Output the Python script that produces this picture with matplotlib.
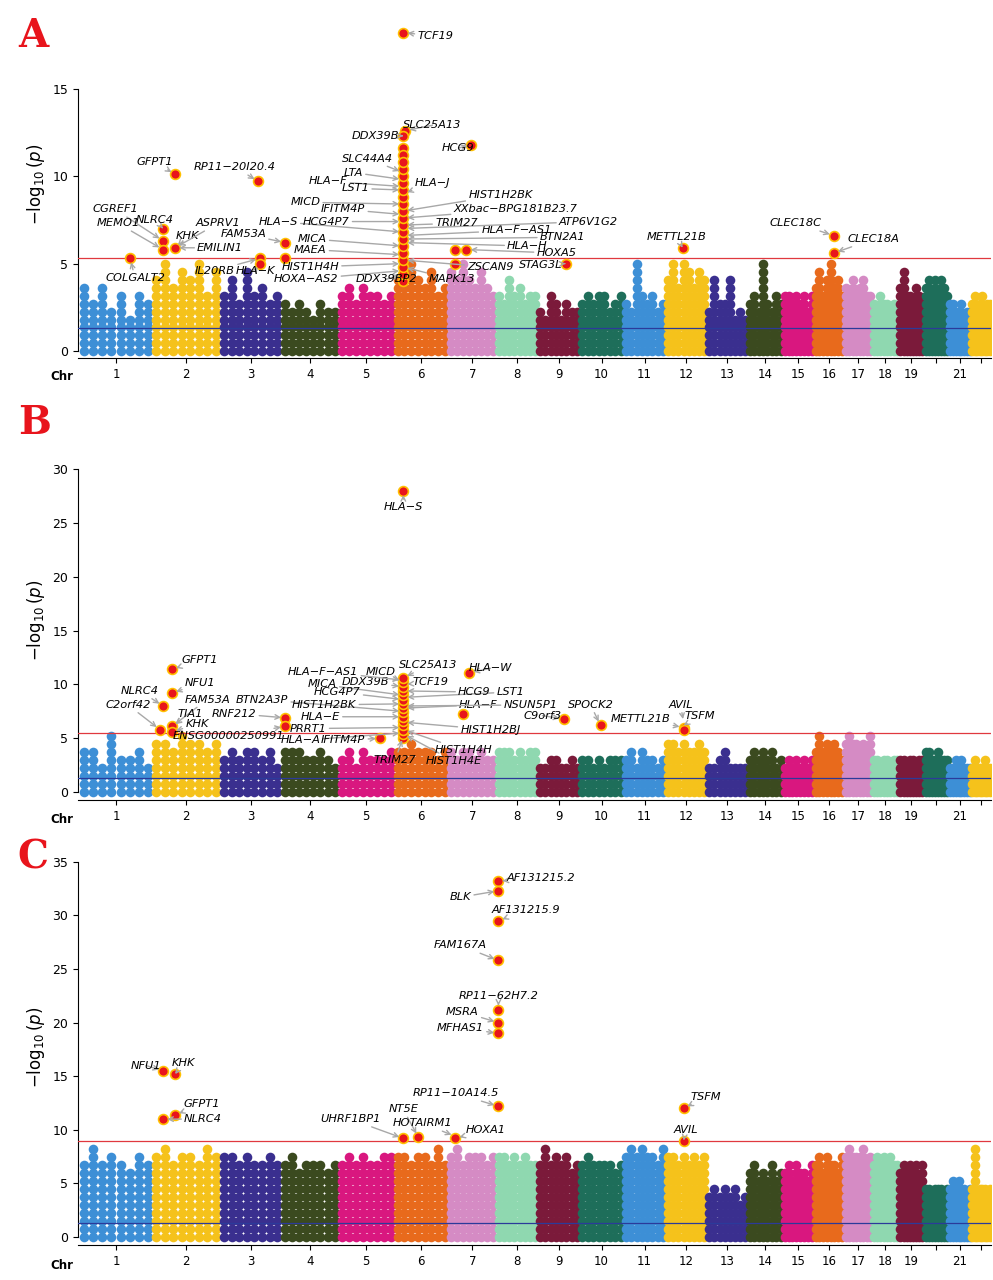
import matplotlib
matplotlib.use('Agg')
import matplotlib.pyplot as plt
import numpy as np

# chromosome sizes (relative genome units)
chr_sizes = [72,68,61,57,56,54,48,41,42,44,42,41,41,35,31,30,28,27,25,25,22,20]
chr_names = [str(i) for i in range(1, 23)]
shown = set(chr_names) - {'20', '22'}
palette = ['#3d8fd6', '#f5c21b', '#3a2f8f', '#3b4a1f', '#d9177f', '#e86a1c',
           '#d58bc4', '#8fd8b0', '#7b1a3a', '#1e6e5a']

bgA = [[3.8,3.0,4.0,2.6,3.5,2.2,3.2,2.8],[4.5,5.2,3.8,4.9,4.2,5.0,3.6,4.6],[3.6,4.4,3.0,4.8,3.2,4.0,2.8,3.4],
       [2.8,2.4,3.0,2.6,2.2,2.9,2.5,2.7],[3.4,3.9,3.0,4.0,3.6,3.2,2.8,3.5],[4.5,4.0,5.0,4.2,3.8,4.6,3.5,4.0],
       [4.8,4.2,5.0,4.4,3.8,4.6,4.0,3.6],[3.6,3.0,4.2,3.4,3.8,2.8,3.2,3.5],[2.5,2.2,3.5,2.8,2.0,3.0,2.6,2.4],
       [3.0,3.4,2.8,3.2,3.6,2.6,3.0,3.3],[3.0,2.6,5.1,3.2,2.8,3.4,2.4,3.0],[4.4,5.0,4.0,5.2,4.6,3.8,4.8,4.2],
       [2.4,4.3,2.8,3.0,4.2,2.2,2.6,2.0],[2.8,3.2,2.6,5.0,3.0,2.4,3.4,2.8],[3.2,3.6,2.8,3.4,3.0,3.5,2.6,3.3],
       [4.0,4.8,3.6,4.4,5.0,3.8,4.2,3.4],[4.0,3.6,4.2,3.4,3.8,4.1,3.2,3.6],[3.0,2.6,3.2,2.8,3.0,2.4,2.9,2.7],
       [3.8,4.7,3.2,3.6,3.0,4.0,3.4,2.8],[4.0,4.5,3.6,4.2,3.4,4.4,3.8,3.2],[2.8,3.0,2.4,2.6,3.0,2.2,2.7,2.5],
       [3.0,3.3,2.6,2.8,3.2,2.4,2.9,3.1]]
bgB = [[3.8,4.2,3.0,5.3,3.5,3.2,3.9,2.8],[4.8,5.2,4.4,5.5,4.6,5.0,4.2,4.9],[3.6,4.5,3.2,4.0,3.8,3.4,4.2,3.0],
       [4.2,3.8,4.5,3.6,3.2,4.0,3.4,3.0],[3.4,3.8,3.0,4.0,3.6,3.2,3.5,3.9],[4.5,4.2,4.8,4.0,3.8,4.4,3.6,4.1],
       [4.0,3.6,4.2,3.8,3.4,4.1,3.5,3.7],[4.2,3.8,4.5,3.6,4.0,3.4,4.3,3.9],[3.0,2.8,3.2,3.4,2.6,3.0,3.1,2.7],
       [3.2,3.5,3.0,3.3,2.9,3.4,3.1,3.6],[3.4,3.8,3.0,4.0,3.6,3.2,2.8,3.5],[4.6,5.0,4.2,4.8,4.4,4.0,5.1,4.3],
       [3.0,2.6,3.2,4.2,2.8,3.0,2.4,2.9],[3.6,4.0,3.2,3.8,3.4,3.9,3.0,3.5],[3.0,3.3,2.8,3.2,2.6,3.1,2.9,3.4],
       [4.4,5.3,4.0,4.8,3.8,4.6,4.2,3.6],[5.0,5.5,4.6,5.2,4.4,4.8,4.0,5.4],[3.4,3.6,3.0,3.2,3.5,2.8,3.3,3.1],
       [3.4,3.6,3.0,3.5,3.2,2.9,3.3,3.1],[3.8,4.0,3.4,3.6,4.1,3.2,3.7,3.5],[3.0,2.8,3.2,2.6,3.1,2.7,2.9,3.0],
       [2.9,3.1,2.6,3.0,2.8,3.2,2.7,2.5]]
bgC = [[7.5,8.6,6.8,8.0,7.2,6.5,7.8,7.0],[8.0,8.5,7.4,8.2,7.8,7.0,8.4,7.6],[7.6,8.2,7.0,7.8,6.8,7.4,8.0,7.2],
       [7.0,7.7,6.6,7.4,6.8,7.2,6.4,7.5],[7.4,8.0,7.0,7.8,7.2,6.8,7.6,8.2],[7.6,8.2,7.2,8.0,7.8,7.0,8.4,7.4],
       [7.8,8.4,7.4,8.0,7.6,8.2,7.0,7.8],[7.6,8.2,7.2,7.8,7.4,8.0,7.0,7.5],[7.0,8.6,6.8,7.6,7.2,8.0,6.6,7.4],
       [7.2,7.6,6.8,7.4,7.0,7.5,6.6,7.3],[8.0,8.8,7.6,8.4,7.8,8.2,7.4,8.6],[7.6,8.2,7.2,8.0,7.4,7.8,7.0,7.9],
       [4.2,5.0,3.8,4.6,4.0,4.8,3.6,4.4],[6.2,7.0,5.8,6.6,6.0,6.8,5.6,6.4],[6.4,7.0,6.0,6.8,6.2,6.6,5.8,6.9],
       [7.0,8.2,6.6,7.6,6.8,7.4,6.4,7.8],[8.0,8.6,7.6,8.2,7.8,8.4,7.4,8.0],[7.4,8.2,7.0,7.8,7.2,7.6,6.8,7.5],
       [6.6,7.2,6.2,7.0,6.4,6.8,6.0,6.9],[4.8,5.2,4.4,5.0,4.6,4.9,4.2,4.7],[5.0,5.6,4.6,5.4,4.8,5.2,4.4,5.1],
       [4.8,8.4,4.4,5.2,4.6,5.0,4.2,4.9]]

# significant hits: (position, -log10 p)
hitsA = [(323,18.2),(325,12.6),(323,12.3),(391,11.8),(323,11.6),(323,11.2),(95,10.1),(178,9.7),(83,7.0),(83,6.3),
         (83,5.8),(95,5.9),(50,5.3),(180,5.3),(180,5.0),(205,6.2),(205,5.3),(375,5.0),(386,5.8),(375,5.8),
         (485,5.0),(602,5.9),(753,6.6),(753,5.6)] + [(323, v) for v in np.arange(4.0, 11.0, 0.4)]
hitsB = [(323,28.0),(92,11.4),(92,9.2),(83,8.0),(80,5.8),(92,6.1),(92,5.6),(205,6.9),(205,6.1),(300,5.0),
         (389,11.1),(383,7.3),(483,6.8),(520,6.2),(603,6.0),(603,5.8)] + [(323, v) for v in np.arange(5.0, 10.8, 0.4)]
hitsC = [(418,33.2),(418,32.3),(418,29.5),(418,25.8),(418,21.2),(418,20.0),(418,19.0),(83,15.5),(95,15.2),
         (95,11.4),(83,11.0),(418,12.2),(375,9.2),(323,9.2),(338,9.3),(603,12.0),(603,9.0)]

# labels: (text, label x, label y, target x, target y)
labA = [('TCF19',355,18.0,323,18.2),('SLC25A13',352,12.9,325,12.6),('DDX39B',295,12.3,323,12.3),('HCG9',378,11.6,391,11.8),
        ('GFPT1',75,10.8,95,10.1),('RP11−20I20.4',155,10.5,178,9.7),('NLRC4',75,7.5,83,7.0),('CGREF1',35,8.1,83,6.3),
        ('MEMO1',38,7.3,83,5.8),('KHK',107,6.6,95,5.9),('ASPRV1',138,7.3,95,5.9),('EMILIN1',140,5.9,95,5.9),
        ('COLGALT2',55,4.2,50,5.3),('IL20RB',135,4.6,180,5.3),('HLA−K',175,4.6,180,5.0),('FAM53A',163,6.7,205,6.2),
        ('HLA−S',198,7.4,323,6.8),('MICA',232,6.4,323,6.0),('MAEA',230,5.8,323,5.5),('HIST1H4H',230,4.8,323,5.0),
        ('HOXA−AS2',226,4.1,323,4.6),('DDX39BP2',306,4.1,323,4.4),('MAPK13',372,4.1,323,4.8),('ZSCAN9',410,4.8,323,5.2),
        ('STAG3L',460,4.9,485,5.0),('HOXA5',476,5.6,386,5.8),('HLA−H',447,6.0,323,6.2),('BTN2A1',482,6.5,323,6.4),
        ('HLA−F−AS1',436,6.9,323,6.6),('ATP6V1G2',508,7.4,323,7.0),('TRIM27',376,7.3,323,7.2),
        ('XXbac−BPG181B23.7',435,8.1,323,7.6),('HIST1H2BK',420,8.9,323,8.0),('HLA−J',352,9.6,323,9.0),
        ('MICD',225,8.5,323,8.4),('IFITM4P',263,8.1,323,7.8),('HCG4P7',246,7.4,323,7.4),('HLA−F',248,9.7,323,9.4),
        ('LST1',275,9.3,323,9.2),('LTA',273,10.2,323,9.8),('SLC44A4',287,11.0,323,10.2),('METTL21B',596,6.5,602,5.9),
        ('CLEC18C',715,7.3,753,6.6),('CLEC18A',793,6.4,753,5.6)]
labB = [('HLA−S',323,26.5,323,28.0),('GFPT1',120,12.3,92,11.4),('NFU1',120,10.1,92,9.2),('NLRC4',60,9.4,83,8.0),
        ('C2orf42',48,8.1,80,5.8),('FAM53A',127,8.6,92,6.1),('TIA1',110,7.3,92,6.1),('KHK',117,6.3,92,5.6),
        ('RNF212',154,7.3,205,6.9),('BTN2A3P',182,8.6,323,7.5),('ENSG00000250991',148,5.2,205,6.1),('HLA−A',220,4.8,323,5.5),
        ('MICA',242,10.0,323,9.0),('HCG4P7',257,9.3,323,8.6),('HIST1H2BK',244,8.1,323,8.2),('HLA−E',240,7.0,323,7.0),
        ('PRRT1',228,5.9,323,6.0),('IFITM4P',263,4.8,300,5.0),('TRIM27',315,3.0,323,5.2),('HIST1H4E',373,2.9,323,5.4),
        ('HIST1H4H',383,3.9,323,5.8),('HIST1H2BJ',410,5.8,323,6.5),('HLA−F',398,8.1,323,7.8),('NSUN5P1',450,8.1,323,8.0),
        ('LST1',430,9.3,323,8.8),('HCG9',394,9.3,323,9.4),('SLC25A13',348,11.8,323,10.6),('HLA−W',410,11.5,389,11.1),
        ('TCF19',350,10.2,323,10.0),('DDX39B',285,10.2,323,9.8),('HLA−F−AS1',243,11.2,323,10.4),('MICD',300,11.2,323,10.2),
        ('C9orf3',462,7.1,483,6.8),('SPOCK2',510,8.1,520,6.2),('METTL21B',560,6.8,603,6.0),('AVIL',600,8.1,603,6.4),
        ('TSFM',619,7.1,603,6.2)]
labC = [('AF131215.2',460,33.5,418,33.2),('BLK',380,31.7,418,32.3),('AF131215.9',445,30.5,418,29.5),
        ('FAM167A',380,27.2,418,25.8),('RP11−62H7.2',418,22.5,418,21.2),('MSRA',382,21.0,418,20.0),
        ('MFHAS1',380,19.5,418,19.0),('NFU1',66,16.0,83,15.5),('KHK',103,16.2,95,15.2),('GFPT1',122,12.4,95,11.4),
        ('NLRC4',123,11.0,83,11.0),('RP11−10A14.5',375,13.4,418,12.2),('HOXA1',405,10.0,375,9.2),
        ('UHRF1BP1',270,11.0,323,9.2),('NT5E',323,11.9,338,9.3),('HOTAIRM1',342,10.6,375,9.4),
        ('TSFM',625,13.1,603,12.0),('AVIL',605,10.0,603,9.0)]

panels = [dict(letter='A', bg=bgA, hits=hitsA, labs=labA, thr=5.3, ylim=(-0.4, 19.5), yt=[0,5,10,15], step=0.45,
               box=[0.0785, 0.7203, 0.9195, 0.272], ly=0.987),
          dict(letter='B', bg=bgB, hits=hitsB, labs=labB, thr=5.5, ylim=(-0.74, 32.7), yt=[0,5,10,15,20,25,30], step=0.75,
               box=[0.0785, 0.375, 0.9195, 0.281], ly=0.684),
          dict(letter='C', bg=bgC, hits=hitsC, labs=labC, thr=9.0, ylim=(-0.75, 36.1), yt=[0,5,10,15,20,25,30,35], step=0.75,
               box=[0.0785, 0.0273, 0.9195, 0.3086], ly=0.345)]

starts = np.concatenate([[0], np.cumsum(chr_sizes)[:-1]])
centers = starts + np.array(chr_sizes) / 2

fig = plt.figure(figsize=(9.93, 12.8), dpi=100)
for p in panels:
    ax = fig.add_axes(p['box'])
    for i, vals in enumerate(p['bg']):
        xs_col = starts[i] + (np.arange(len(vals)) + 0.5) * chr_sizes[i] / len(vals)
        xs, ys = [], []
        for xc, v in zip(xs_col, vals):
            yy = np.arange(0, v, p['step'])
            xs += [xc] * len(yy); ys += list(yy)
        ax.scatter(xs, ys, s=48, color=palette[i % 10], lw=0, zorder=2)
    ax.axhline(p['thr'], color='#e0383f', lw=0.9, zorder=3)
    ax.axhline(1.3, color='#2b3a9a', lw=0.9, zorder=3)
    hx = [h[0] for h in p['hits']]; hy = [h[1] for h in p['hits']]
    ax.scatter(hx, hy, s=50, color='#e8141c', edgecolor='#ffc000', lw=1.2, zorder=5)
    for t, tx, ty, x, y in p['labs']:
        ax.annotate(t, xy=(x, y), xytext=(tx, ty), fontsize=8.2, style='italic', ha='center', va='center',
                    arrowprops=dict(arrowstyle='->', color='#a8a8a8', lw=1.0, shrinkA=0, shrinkB=3), zorder=6)
    ax.set_xlim(-2, 910)
    ax.set_ylim(*p['ylim'])
    ax.set_yticks(p['yt'])
    ax.set_xticks(centers)
    ax.set_xticklabels([n if n in shown else '' for n in chr_names], fontsize=8.5)
    ax.tick_params(axis='y', labelsize=9)
    ax.spines['top'].set_visible(False); ax.spines['right'].set_visible(False)
    ax.spines['left'].set_bounds(0, p['yt'][-1])
    ax.set_ylabel(r'$-\log_{10}(p)$', fontsize=12)
    ax.text(-0.005, -0.035, 'Chr', transform=ax.transAxes, ha='right', va='top', fontsize=8.5, fontweight='bold')
    fig.text(0.018, p['ly'], p['letter'], color='#e8141c', fontsize=28, fontweight='bold', family='serif', va='top')

fig.savefig('out.png', dpi=100)
